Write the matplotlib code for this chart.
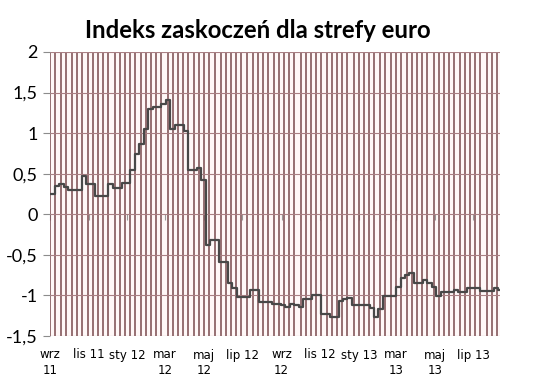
import numpy as np
import pandas as pd
import matplotlib
matplotlib.use('Agg')
import matplotlib.pyplot as plt
import matplotlib.dates as mdates

# weekly readings of the surprise index (Fridays from 2011-09-02)
start = '2011-09-02'
values = [0.25, 0.35, 0.37, 0.34, 0.30, 0.30, 0.30, 0.47, 0.37, 0.37,
          0.23, 0.23, 0.23, 0.37, 0.32, 0.32, 0.39, 0.39, 0.54, 0.74,
          0.87, 1.05, 1.30, 1.32, 1.32, 1.36, 1.41, 1.05, 1.10, 1.10,
          1.03, 0.55, 0.55, 0.57, 0.42, -0.38, -0.32, -0.32, -0.59, -0.59,
          -0.85, -0.91, -1.02, -1.02, -1.02, -0.93, -0.93, -1.08, -1.08, -1.08,
          -1.10, -1.11, -1.12, -1.14, -1.10, -1.12, -1.14, -1.05, -1.05, -0.99,
          -0.99, -1.23, -1.23, -1.27, -1.27, -1.07, -1.05, -1.03, -1.12, -1.12,
          -1.12, -1.12, -1.15, -1.27, -1.17, -1.01, -1.01, -1.01, -0.89, -0.78,
          -0.75, -0.72, -0.85, -0.85, -0.81, -0.85, -0.89, -1.01, -0.96, -0.96,
          -0.96, -0.93, -0.96, -0.96, -0.91, -0.91, -0.91, -0.95, -0.95, -0.95,
          -0.91, -0.93, -0.85]
dates = pd.date_range(start, periods=len(values), freq='W-FRI')

tick_dates = ['2011-09-01', '2011-11-01', '2012-01-01', '2012-03-01', '2012-05-01', '2012-07-01',
              '2012-09-01', '2012-11-01', '2013-01-01', '2013-03-01', '2013-05-01', '2013-07-01']
tick_labels = ['wrz\n11', 'lis 11', 'sty 12', 'mar\n12', 'maj\n12', 'lip 12',
               'wrz\n12', 'lis 12', 'sty 13', 'mar\n13', 'maj\n13', 'lip 13']
y_ticks = [-1.5, -1, -0.5, 0, 0.5, 1, 1.5, 2]
y_labels = ['-1,5', '-1', '-0,5', '0', '0,5', '1', '1,5', '2']

x_start = pd.Timestamp('2011-09-01')
x_end = pd.Timestamp('2013-08-12')

fig = plt.figure(figsize=(5.33, 3.80), dpi=100)
ax = fig.add_axes([50/533, 44/380, 450/533, 284/380])
ax.set_facecolor('#fff8f8')

# vertical category gridlines (every 6 business days)
grid_dates = pd.bdate_range(x_start, x_end)[::6]
for d in grid_dates:
    ax.axvline(d, color='#7e5054', lw=1.15, zorder=1)
for yv in y_ticks:
    ax.axhline(yv, color='#a98084', lw=0.8, zorder=1)

ax.plot(dates, values, drawstyle='steps-post', color='#484848', lw=1.6, zorder=3)

ax.set_xlim(x_start, x_end)
ax.set_ylim(-1.5, 2)
ax.set_yticks(y_ticks)
ax.set_yticklabels(y_labels, fontsize=13, fontfamily='Lato')
ax.tick_params(axis='y', length=5, color='#8c8c8c', pad=4)

ax.set_xticks(pd.to_datetime(tick_dates))
ax.set_xticklabels(tick_labels, fontsize=8.5, fontfamily='DejaVu Sans', linespacing=1.25)
ax.tick_params(axis='x', length=0, pad=9)

# category axis crossing at zero with its tick marks
sec = ax.secondary_xaxis(1.5 / 3.5)
sec.set_xticks(pd.to_datetime(tick_dates))
sec.set_xticklabels([])
sec.tick_params(axis='x', length=4, color='#9a9a9a', direction='out')
sec.spines['bottom'].set_visible(False)

for s in ax.spines.values():
    s.set_visible(False)

fig.text(258/533, 1 - 38/380, 'Indeks zaskoczeń dla strefy euro', ha='center', va='baseline',
         fontsize=17.2, fontweight='bold', fontfamily='Lato')

fig.savefig('out.png', dpi=100)
